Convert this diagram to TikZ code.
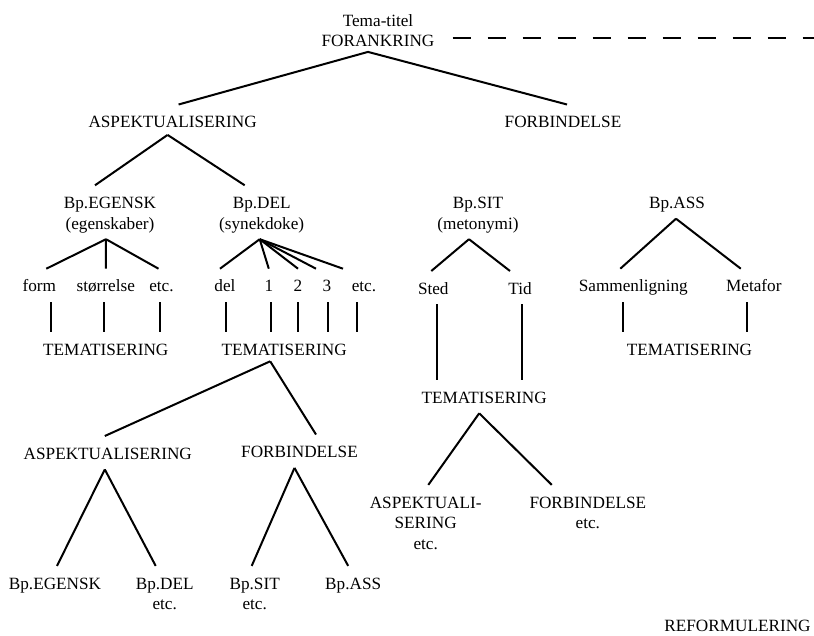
\documentclass[tikz,border=0pt]{standalone}
\usepackage{fontspec}
\setmainfont{Liberation Serif}
\usepackage{tikz}

\newcommand\lblstrut{\rule{0pt}{23pt}}

\begin{document}
\begin{tikzpicture}[x=1pt, y=-1pt,
    lbl/.style={anchor=north, inner sep=0pt, align=center,
        font=\fontsize{17.2}{20.5}\selectfont,
        execute at begin node={\lblstrut},
        execute at end node={\rule[-10pt]{0pt}{10pt}}},
    branch/.style={line width=2pt},
    dashline/.style={line width=2pt, dash pattern=on 18pt off 17pt}]
        \useasboundingbox (0,0) rectangle (814,635);

        \node[lbl] (root)  at (378,3)       {\lblstrut Tema-titel\\FORANKRING};
        \node[lbl] (asp1)  at (172.6,104.5) {ASPEKTUALISERING};
        \node[lbl] (fb1)   at (563,104.5)   {FORBINDELSE};

        \node[lbl] (egL)   at (110,185.3)   {\lblstrut Bp.EGENSK\\(egenskaber)};
        \node[lbl] (delN)  at (261.7,185.3) {\lblstrut Bp.DEL\\(synekdoke)};
        \node[lbl] (sit)   at (478,185.3)   {\lblstrut Bp.SIT\\(metonymi)};
        \node[lbl] (ass)   at (677,185.3)   {Bp.ASS};

        \node[lbl] (form)  at (39.3,268.7)  {form};
        \node[lbl] (str)   at (105.8,268.7) {størrelse};
        \node[lbl] (etcA)  at (161.5,268.7) {etc.};
        \node[lbl] (del)   at (225,268.7)   {del};
        \node[lbl] (n1)    at (268.8,268.7) {1};
        \node[lbl] (n2)    at (298,268.7)   {2};
        \node[lbl] (n3)    at (327,268.7)   {3};
        \node[lbl] (etcB)  at (364,268.7)   {etc.};
        \node[lbl] (sted)  at (433.3,271)   {Sted};
        \node[lbl] (tid)   at (520,271)     {Tid};
        \node[lbl] (samm)  at (633.3,268.7) {Sammenligning};
        \node[lbl] (meta)  at (753.8,268.7) {Metafor};

        \node[lbl] (temaL) at (105.8,331.9) {TEMATISERING};
        \node[lbl] (temaM) at (284.2,331.9) {TEMATISERING};
        \node[lbl] (temaR) at (689.5,331.9) {TEMATISERING};
        \node[lbl] (temaS) at (484.2,379.9) {TEMATISERING};

        \node[lbl] (asp2)  at (107.8,436)   {ASPEKTUALISERING};
        \node[lbl] (fb2)   at (299.5,434.5) {FORBINDELSE};
        \node[lbl] (aspS)  at (425.7,484.9) {\lblstrut ASPEKTUALI-\\SERING\\etc.};
        \node[lbl] (fbS)   at (587.8,484.9) {\lblstrut FORBINDELSE\\etc.};

        \node[lbl] (bpE)   at (55,565.9)    {Bp.EGENSK};
        \node[lbl] (bpD)   at (164.7,565.9) {\lblstrut Bp.DEL\\etc.};
        \node[lbl] (bpS)   at (254.7,565.9) {\lblstrut Bp.SIT\\etc.};
        \node[lbl] (bpA)   at (353.2,565.9) {Bp.ASS};

        \node[lbl] (reform) at (737.5,608.5) {REFORMULERING};

        \coordinate (dashend) at (814,37.7);
        \draw[dashline] ([xshift=18pt]root.east |- dashend) -- (dashend);

        \draw[branch]
            ([xshift=-10pt,yshift=5pt]root.south) edge ([xshift=6pt]asp1.north)
            ([xshift=-10pt,yshift=5pt]root.south) edge ([xshift=4pt]fb1.north)
            ([xshift=-5pt,yshift=3pt]asp1.south) edge ([xshift=-15pt]egL.north)
            ([xshift=-5pt,yshift=3pt]asp1.south) edge ([xshift=-17pt]delN.north)
            ([xshift=-4pt]egL.south) edge ([xshift=7pt]form.north)
            ([xshift=-4pt]egL.south) edge (str.north)
            ([xshift=-4pt]egL.south) edge ([xshift=-3pt]etcA.north)
            ([xshift=-2pt]delN.south) edge ([xshift=-5pt]del.north)
            ([xshift=-2pt]delN.south) edge (n1.north)
            ([xshift=-2pt]delN.south) edge (n2.north)
            ([xshift=-2pt]delN.south) edge ([xshift=-11pt]n3.north)
            ([xshift=-2pt]delN.south) edge ([xshift=-21pt]etcB.north)
            ([xshift=12pt]form.south) edge ([xshift=12pt]form.south |- temaL.north)
            ([xshift=-2pt]str.south) edge ([xshift=-2pt]str.south |- temaL.north)
            ([xshift=-1.5pt]etcA.south) edge ([xshift=-1.5pt]etcA.south |- temaL.north)
            ([xshift=1pt]del.south) edge ([xshift=1pt]del.south |- temaM.north)
            ([xshift=2pt]n1.south) edge ([xshift=2pt]n1.south |- temaM.north)
            (n2.south) edge (n2.south |- temaM.north)
            ([xshift=1pt]n3.south) edge ([xshift=1pt]n3.south |- temaM.north)
            ([xshift=-7pt]etcB.south) edge ([xshift=-7pt]etcB.south |- temaM.north)
            ([xshift=-14pt,yshift=4pt]temaM.south) edge ([xshift=-3pt]asp2.north)
            ([xshift=-14pt,yshift=4pt]temaM.south) edge ([xshift=16.5pt]fb2.north)
            ([xshift=-3pt]asp2.south) edge ([xshift=2pt]bpE.north)
            ([xshift=-3pt]asp2.south) edge ([xshift=-9pt]bpD.north)
            ([xshift=-5pt]fb2.south) edge ([xshift=-3pt]bpS.north)
            ([xshift=-5pt]fb2.south) edge ([xshift=-5pt]bpA.north)
            ([xshift=-9pt]sit.south) edge ([xshift=-2pt]sted.north)
            ([xshift=-9pt]sit.south) edge ([xshift=-10pt]tid.north)
            ([xshift=3.4pt]sted.south) edge ([xshift=3.4pt]sted.south |- temaS.north)
            ([xshift=2.3pt]tid.south) edge ([xshift=2.3pt]tid.south |- temaS.north)
            ([xshift=-5pt]temaS.south) edge ([xshift=2.6pt]aspS.north)
            ([xshift=-5pt]temaS.south) edge ([xshift=-36pt]fbS.north)
            ([xshift=-1pt]ass.south) edge ([xshift=-13pt]samm.north)
            ([xshift=-1pt]ass.south) edge ([xshift=-13pt]meta.north)
            ([xshift=-10pt]samm.south) edge ([xshift=-10pt]samm.south |- temaR.north)
            ([xshift=-7pt]meta.south) edge ([xshift=-7pt]meta.south |- temaR.north)
            ;
\end{tikzpicture}
\end{document}
